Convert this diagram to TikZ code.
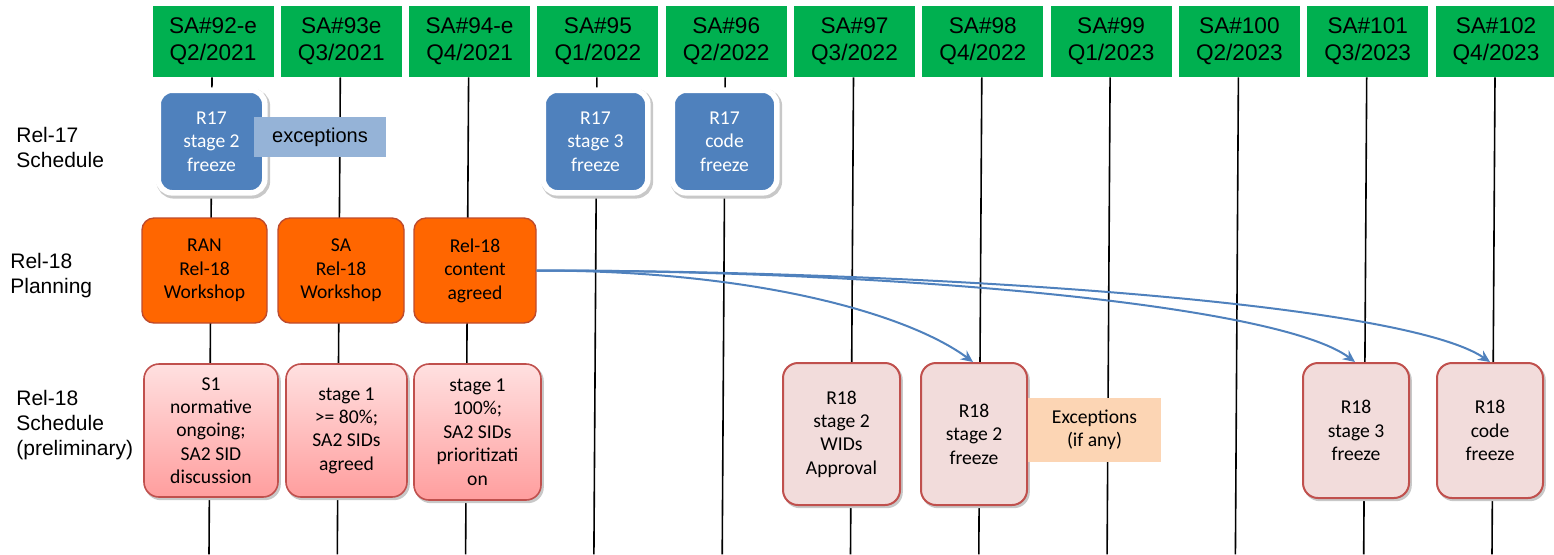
\documentclass[tikz,border=0pt]{standalone}
\usepackage{fontspec}
\setmainfont{Liberation Sans}
\newfontfamily\calib{Carlito}
\usetikzlibrary{calc,arrows.meta}
\definecolor{hdrgreen}{RGB}{0,176,80}
\definecolor{relblue}{RGB}{79,129,189}
\definecolor{excblue}{RGB}{149,179,215}
\definecolor{planorange}{RGB}{255,102,0}
\definecolor{planedge}{RGB}{190,75,45}
\definecolor{pinkfill}{RGB}{242,220,219}
\definecolor{pinkedge}{RGB}{192,80,77}
\definecolor{pinktop}{RGB}{255,224,224}
\definecolor{pinkbot}{RGB}{255,158,158}
\definecolor{peach}{RGB}{252,213,180}
\definecolor{shade}{RGB}{200,200,200}
\tikzset{
  hdr/.style={fill=hdrgreen, inner sep=0pt, align=center, minimum width=60.5pt, minimum height=35.5pt,
    font=\fontsize{11.3}{13.5}\selectfont},
  rowlabel/.style={anchor=west, align=left, inner sep=0pt, font=\fontsize{10.5}{12.5}\selectfont},
  boxtext/.style={inner sep=0pt, align=center, font=\calib\fontsize{9.8}{11.7}\selectfont},
  shadowed/.style={preaction={draw=shade, fill=shade, line width=#1, transform canvas={shift={(0.9pt,-1.1pt)}}}},
  freezeold/.style={boxtext, fill=relblue, draw=white, line width=2.8pt, rounded corners=7pt, text=white,
    minimum height=51.3pt, shadowed=3.6pt},
  excbox/.style={fill=excblue, inner sep=0pt, minimum width=66pt, minimum height=20pt,
    font=\fontsize{10}{12}\selectfont},
  planbox/.style={boxtext, fill=planorange, draw=planedge, line width=0.7pt, rounded corners=6pt,
    minimum height=52.5pt},
  prelim/.style={boxtext, top color=pinktop, bottom color=pinkbot, draw=pinkedge, line width=0.8pt,
    rounded corners=7.5pt, minimum height=66.5pt, shadowed=1pt},
  freezenew/.style={boxtext, fill=pinkfill, draw=pinkedge, line width=1pt, rounded corners=7.5pt,
    minimum width=53pt, shadowed=1pt},
  flow/.style={draw=relblue, line width=1pt, -{Stealth[length=6pt,width=5.5pt]}}
}
\begin{document}
\begin{tikzpicture}[x=0.5pt,y=-0.5pt]
\useasboundingbox (0,0) rectangle (1554,554);
\foreach \n/\q/\yr [count=\i] in {92-e/2/2021,93e/3/2021,94-e/4/2021,95/1/2022,96/2/2022,97/3/2022,98/4/2022,99/1/2023,100/2/2023,101/3/2023,102/4/2023}
  \node[hdr] (h\i) at ({213+128.3*(\i-1)},41.5) {SA\#\n\\Q\q/\yr};
\foreach \i in {1,...,11} {
  \coordinate (b\i) at ($(h\i.south)+(-4,477)$);
  \draw[line width=0.8pt] ($(h\i.south)+(-1,0)$) -- (b\i);
}

\node[rowlabel] (lab17) at (16,147) {Rel-17\\Schedule};
\node[rowlabel] (labplan) at (10,276) {Rel-18\\Planning};
\node[rowlabel] (lab18) at (16,425) {Rel-18\\Schedule\\(preliminary)};

\node[freezeold, minimum width=53.3pt] (r17s2) at (211.5,141.5) {R17\\stage 2\\freeze};
\node[excbox] (exc17) at (320,137) {exceptions};
\node[freezeold, minimum width=52.3pt] (r17s3) at (595.5,141.5) {R17\\stage 3\\freeze};
\node[freezeold, minimum width=52.3pt] (r17code) at (724.5,141.5) {R17\\code\\freeze};

\node[planbox, minimum width=62.5pt] (ranws) at (204.5,270.5) {RAN\\Rel-18\\Workshop};
\node[planbox, minimum width=63pt] (saws) at (341,270.5) {SA\\Rel-18\\Workshop};
\node[planbox, minimum width=61pt] (agreed) at (475,270.5) {Rel-18\\content\\agreed};

\node[prelim, minimum width=67pt] (sone) at (211,430.5) {S1\\normative\\ongoing;\\SA2 SID\\discussion};
\node[prelim, minimum width=60.5pt] (stg80) at (346.5,430.5) {stage 1\\>= 80\%;\\SA2 SIDs\\agreed};
\node[prelim, minimum width=63.5pt, minimum height=68pt] (stg100) at (477.5,432) {stage 1\\100\%;\\SA2 SIDs\\prioritizati\\on};

\node[freezenew, minimum width=58.5pt, minimum height=71pt] (wids) at (841.5,434) {R18\\stage 2\\WIDs\\Approval};
\node[freezenew, minimum height=71pt] (s2f) at (974,434) {R18\\stage 2\\freeze};
\node[boxtext, fill=peach, minimum width=66.5pt, minimum height=32pt] (exc18) at (1094.5,430) {Exceptions\\(if any)};
\node[freezenew, minimum height=67.5pt] (s3f) at (1356,430.5) {R18\\stage 3\\freeze};
\node[freezenew, minimum height=67.5pt] (codef) at (1490,430.5) {R18\\code\\freeze};

\draw[flow] (agreed.east) .. controls +(224,0) and +(-63,-46.7) .. ([xshift=-0.5pt]s2f.north);
\draw[flow] (agreed.east) .. controls +(364,0) and +(-75,-56.7) .. ([xshift=-0.5pt]s3f.north);
\draw[flow] (agreed.east) .. controls +(364,0) and +(-90,-61.7) .. (codef.north);
\end{tikzpicture}
\end{document}
